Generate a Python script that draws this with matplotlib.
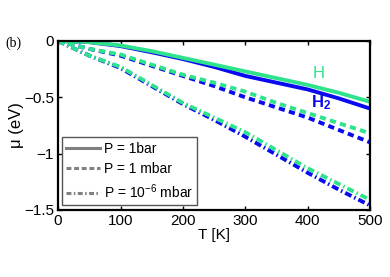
import matplotlib
matplotlib.use('Agg')
import matplotlib.pyplot as plt
import numpy as np

plt.rcParams['font.family'] = ['Liberation Sans', 'DejaVu Sans']
plt.rcParams['mathtext.fontset'] = 'custom'
plt.rcParams['mathtext.rm'] = 'Liberation Sans'
plt.rcParams['mathtext.it'] = 'Liberation Sans:italic'
plt.rcParams['mathtext.bf'] = 'Liberation Sans:bold'

# temperature grid
T = [0, 50, 100, 150, 200, 250, 300, 350, 400, 450, 500]

# H (green) chemical potential, eV
h_1bar = [0, -0.01, -0.04, -0.09, -0.15, -0.21, -0.27, -0.33, -0.39, -0.46, -0.54]
h_1mbar = [0, -0.07, -0.12, -0.21, -0.30, -0.37, -0.45, -0.55, -0.64, -0.73, -0.82]
h_1e6mbar = [0, -0.13, -0.23, -0.39, -0.55, -0.68, -0.81, -0.97, -1.13, -1.27, -1.41]

# H2 (blue)
h2_1bar = [0, -0.01, -0.045, -0.10, -0.16, -0.23, -0.31, -0.37, -0.43, -0.51, -0.60]
h2_1mbar = [0, -0.07, -0.13, -0.22, -0.31, -0.40, -0.50, -0.59, -0.68, -0.79, -0.90]
h2_1e6mbar = [0, -0.13, -0.24, -0.40, -0.56, -0.70, -0.85, -1.01, -1.17, -1.32, -1.46]

green = '#2ee38c'
blue = '#0a0af0'
dash = (1.6, 1.1)
dashdot = (1.8, 0.8, 0.4, 0.8)

fig = plt.figure(figsize=(3.9, 2.77), dpi=100)
ax = fig.add_axes([0.149, 0.242, 0.80, 0.61])

ax.plot(T, h2_1bar, '-', color=blue, lw=2.8)
ax.plot(T, h2_1mbar, '--', color=blue, lw=2.8, dashes=dash)
ax.plot(T, h2_1e6mbar, '-.', color=blue, lw=2.8, dashes=dashdot)
ax.plot(T, h_1bar, '-', color=green, lw=2.8)
ax.plot(T, h_1mbar, '--', color=green, lw=2.8, dashes=dash)
ax.plot(T, h_1e6mbar, '-.', color=green, lw=2.8, dashes=dashdot)

# gray legend entries
l1, = ax.plot([], [], '-', color='#808080', lw=2.2)
l2, = ax.plot([], [], '--', color='#808080', lw=2.2, dashes=(1.6, 0.9))
l3, = ax.plot([], [], '-.', color='#808080', lw=2.2, dashes=(1.6, 0.8, 0.5, 0.8))
leg = ax.legend([l1, l2, l3], ['P = 1bar', 'P = 1 mbar', 'P = 10$^{-6}$ mbar'],
                loc='lower left', fontsize=10, handlelength=2.4, handletextpad=0.3,
                labelspacing=0.45, borderpad=0.3, fancybox=False, framealpha=1,
                borderaxespad=0, bbox_to_anchor=(0.013, 0.03))
leg.get_frame().set_edgecolor('#555555')
leg.get_frame().set_linewidth(1.0)

ax.text(408, -0.33, 'H', color=green, fontsize=12)
ax.text(406, -0.59, 'H$_\\mathbf{2}$', color=blue, fontsize=12, fontweight='bold')

ax.set_xlim(0, 500)
ax.set_ylim(-1.5, 0)
ax.set_xticks([0, 100, 200, 300, 400, 500])
ax.set_yticks([-1.5, -1, -0.5, 0])
ax.set_yticklabels(['\u22121.5', '\u22121', '\u22120.5', '0'])
ax.tick_params(direction='in', top=True, right=True, labelsize=11, length=3, width=1, pad=3)
for s in ax.spines.values():
    s.set_linewidth(1.6)

ax.set_xlabel('T [K]', fontsize=11, labelpad=0)
ax.set_ylabel('\u03bc (eV)', fontsize=12, labelpad=0)
fig.text(0.013, 0.83, '(b)', fontsize=10, family='Liberation Serif')

fig.savefig('out.png', dpi=100)
